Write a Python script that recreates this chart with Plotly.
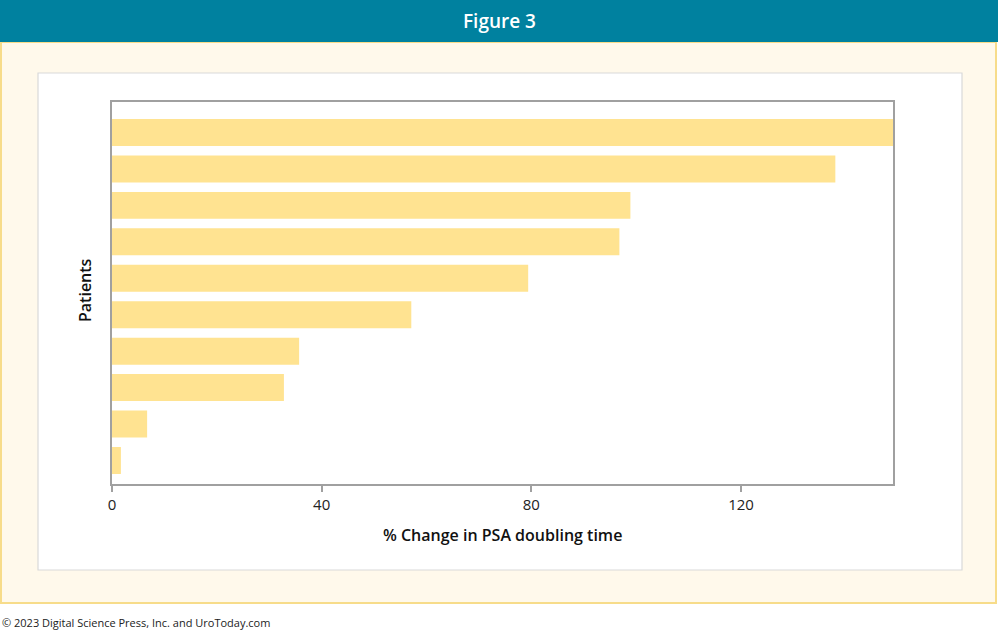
import plotly.graph_objects as go

# Data (bottom patient first)
patients = [1, 2, 3, 4, 5, 6, 7, 8, 9, 10]
pct_change = [1.7, 6.7, 32.8, 35.7, 57.1, 79.4, 96.8, 98.9, 138.0, 149.0]
x_ticks = [0, 40, 80, 120]

W, H = 998, 644
L, R, T, B = 112, 893, 102, 484  # plot area in pixels

def fx(px):
    return (px - L) / (R - L)

def fy(py):
    return 1 - (py - T) / (B - T)

fig = go.Figure()
fig.add_trace(go.Bar(
    x=pct_change,
    y=[p - 1 for p in patients],
    orientation="h",
    marker=dict(color="#FFE391", line=dict(width=0)),
    width=0.74,
    hoverinfo="x",
))

shapes = [
    dict(type="rect", xref="paper", yref="paper", x0=fx(1), x1=fx(996), y0=fy(603), y1=fy(42),
         fillcolor="#FFF9EB", line=dict(color="#F7DC8A", width=2), layer="below"),
    dict(type="rect", xref="paper", yref="paper", x0=fx(0), x1=fx(998), y0=fy(42), y1=fy(0),
         fillcolor="#00819F", line=dict(width=0), layer="below"),
    dict(type="rect", xref="paper", yref="paper", x0=fx(38), x1=fx(962), y0=fy(570), y1=fy(73),
         fillcolor="#FFFFFF", line=dict(color="#D9D9D9", width=1.2), layer="below"),
]

annotations = [
    dict(text="Figure 3", xref="paper", yref="paper", x=fx(499), y=fy(21), showarrow=False,
         font=dict(family="Open Sans", size=19, color="#FFFFFF", weight=600),
         xanchor="center", yanchor="middle"),
    dict(text="Patients", xref="paper", yref="paper", x=fx(85), y=fy(290), showarrow=False,
         textangle=-90, font=dict(family="Open Sans", size=16, color="#111111", weight=600),
         xanchor="center", yanchor="middle"),
    dict(text="% Change in PSA doubling time", xref="paper", yref="paper", x=fx(503), y=fy(535),
         showarrow=False, font=dict(family="Open Sans", size=16, color="#111111", weight=600),
         xanchor="center", yanchor="middle"),
    dict(text="© 2023 Digital Science Press, Inc. and UroToday.com", xref="paper", yref="paper",
         x=fx(0), y=fy(622), showarrow=False,
         font=dict(family="Open Sans", size=11, color="#222222"),
         xanchor="left", yanchor="middle"),
]

fig.update_layout(
    width=W, height=H,
    margin=dict(l=L, r=W - R, t=T, b=H - B, pad=0),
    paper_bgcolor="#FFFFFF",
    plot_bgcolor="#FFFFFF",
    showlegend=False,
    shapes=shapes,
    annotations=annotations,
    xaxis=dict(
        range=[0, 149], tickvals=x_ticks, ticktext=[str(v) for v in x_ticks],
        showgrid=False, zeroline=False,
        showline=True, linecolor="#A0A0A0", linewidth=1.5, mirror=True,
        ticks="outside", ticklen=6, tickcolor="#A0A0A0", tickwidth=1.5,
        tickfont=dict(family="Open Sans", size=15, color="#222222"),
        fixedrange=True,
    ),
    yaxis=dict(
        range=[-0.645, 9.837], showticklabels=False, ticks="",
        showgrid=False, zeroline=False,
        showline=True, linecolor="#A0A0A0", linewidth=1.5, mirror=True,
        fixedrange=True,
    ),
)

fig.write_html(
    "out.html",
    config={"displayModeBar": False},
    post_script="document.body.style.margin='0px';document.body.style.padding='0px';",
)
